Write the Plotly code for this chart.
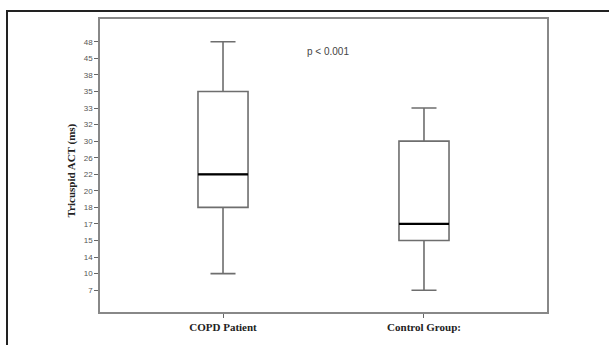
import plotly.graph_objects as go

# ---- data ----
groups = ["COPD Patient", "Control Group:"]
lower_whisker = [10, 7]
q1_vals = [18, 15]
median_vals = [22, 17]
q3_vals = [35, 30]
upper_whisker = [48, 33]
tick_labels = ["7", "10", "14", "15", "17", "18", "20", "22", "26", "30", "32", "33", "35", "38", "45", "48"]
p_text = "p < 0.001"
y_title = "Tricuspid ACT (ms)"

# axis is an ordinal scale: each tick label is one evenly spaced step
def pos(v):
    return tick_labels.index(str(v))

W, H = 609, 345
L, T = 100, 19
R = W - 547
B = H - 315
box_w = 0.249
line_col = "#6e6e6e"

fig = go.Figure()
for i, g in enumerate(groups):
    fig.add_trace(go.Box(
        x=[i], q1=[pos(q1_vals[i])], median=[pos(median_vals[i])], q3=[pos(q3_vals[i])],
        lowerfence=[pos(lower_whisker[i])], upperfence=[pos(upper_whisker[i])],
        width=box_w, whiskerwidth=0.5, fillcolor="white",
        line=dict(color=line_col, width=1.6), boxpoints=False, showlegend=False,
        hoverinfo="skip",
    ))
    fig.add_shape(type="line", xref="x", yref="y",
                  x0=i - box_w / 2, x1=i + box_w / 2,
                  y0=pos(median_vals[i]), y1=pos(median_vals[i]),
                  line=dict(color="black", width=2.2))

pw = W - L - R
ph = H - T - B

def px_x(x):
    return (x - L) / pw

def px_y(y):
    return (315 - y) / ph

# outer frame (top + left)
fx = px_x(7)
fy = px_y(11)
fig.add_shape(type="path", xref="paper", yref="paper",
              path=f"M {fx} -0.3 L {fx} {fy} L {px_x(620)} {fy}",
              line=dict(color="#222222", width=2))

fig.add_annotation(text=p_text, xref="paper", yref="paper",
                   x=px_x(305), y=px_y(52), xanchor="left", yanchor="middle",
                   showarrow=False, font=dict(family="Liberation Sans", size=10, color="#444444"))
fig.add_annotation(text=y_title, xref="paper", yref="paper",
                   x=px_x(71), y=px_y(172), xanchor="center", yanchor="middle",
                   textangle=-90, showarrow=False,
                   font=dict(family="Liberation Serif", size=11, color="#222222", weight="bold"))

fig.update_layout(
    width=W, height=H, autosize=False,
    margin=dict(l=L, r=R, t=T, b=B),
    paper_bgcolor="white", plot_bgcolor="white",
    xaxis=dict(range=[-0.612, 1.612], tickvals=[0, 1], ticktext=groups,
               showgrid=False, zeroline=False, showline=True, mirror=True,
               linecolor="#888888", linewidth=1.5, ticks="outside", ticklen=4,
               tickcolor="#666666", tickwidth=1.2,
               tickfont=dict(family="Liberation Serif", size=11, color="#222222", weight="bold")),
    yaxis=dict(range=[-1.315, 16.375], tickvals=list(range(len(tick_labels))), ticktext=tick_labels,
               showgrid=False, zeroline=False, showline=True, mirror=True,
               linecolor="#888888", linewidth=1.5, ticks="outside", ticklen=4,
               tickcolor="#666666", tickwidth=1.2,
               tickfont=dict(family="Liberation Sans", size=8, color="#555555")),
)

fig.write_html("out.html", config={"displayModeBar": False},
               post_script="document.body.style.margin='0px';")
